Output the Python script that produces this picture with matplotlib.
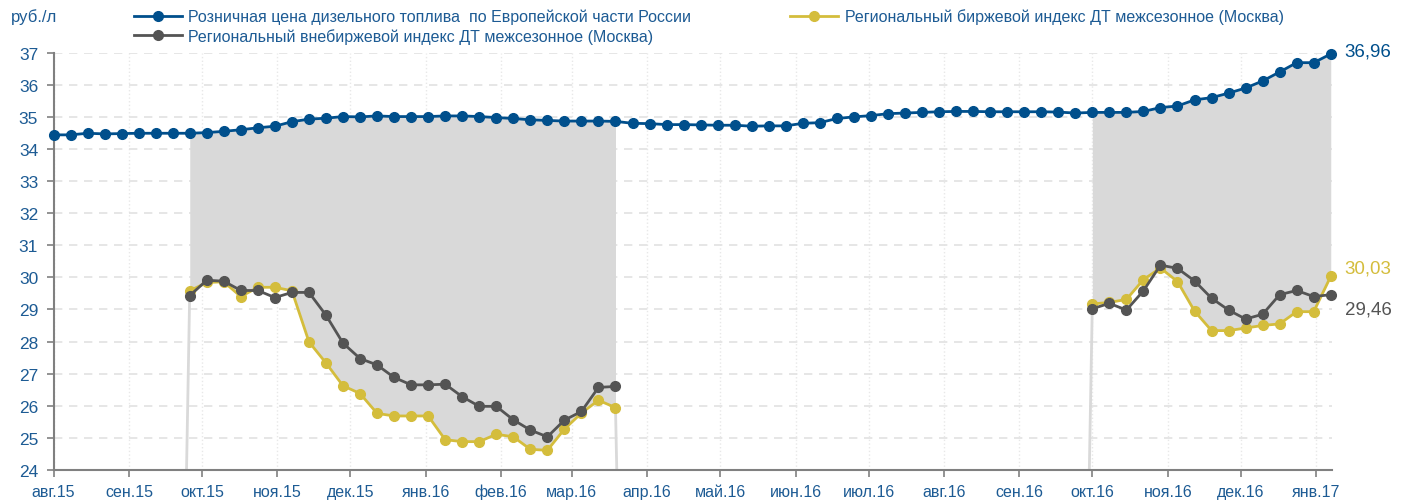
import matplotlib
matplotlib.use('Agg')
import matplotlib.pyplot as plt
import numpy as np
import pandas as pd

plt.rcParams['font.family'] = ['Liberation Sans', 'DejaVu Sans']

# weekly observations, 01.08.2015 - 07.01.2017
dates = pd.date_range('2015-08-01', periods=76, freq='7D')

retail = [34.44, 34.44, 34.49, 34.47, 34.48, 34.49, 34.49, 34.49, 34.49, 34.51,
          34.55, 34.60, 34.66, 34.71, 34.85, 34.93, 34.96, 35.01, 35.00, 35.03,
          35.01, 35.01, 35.01, 35.03, 35.03, 35.01, 34.98, 34.95, 34.91, 34.89,
          34.87, 34.87, 34.87, 34.86, 34.80, 34.79, 34.76, 34.76, 34.75, 34.74,
          34.74, 34.71, 34.72, 34.72, 34.80, 34.82, 34.95, 35.00, 35.04, 35.10,
          35.12, 35.14, 35.16, 35.17, 35.17, 35.16, 35.16, 35.16, 35.16, 35.15,
          35.12, 35.14, 35.14, 35.14, 35.17, 35.29, 35.34, 35.53, 35.60, 35.74,
          35.90, 36.12, 36.40, 36.69, 36.69, 36.96]

# index values exist only in two periods: weeks 8-33 and 61-75
seg1 = (8, 34)
seg2 = (61, 76)

exch1 = [29.58, 29.84, 29.86, 29.40, 29.69, 29.69, 29.58, 27.99, 27.33, 26.62,
         26.38, 25.76, 25.68, 25.68, 25.68, 24.94, 24.88, 24.88, 25.11, 25.03,
         24.64, 24.61, 25.27, 25.77, 26.17, 25.94]
otc1 = [29.43, 29.91, 29.88, 29.59, 29.59, 29.37, 29.53, 29.53, 28.82, 27.95,
        27.47, 27.27, 26.88, 26.65, 26.65, 26.67, 26.28, 25.98, 25.98, 25.56,
        25.24, 25.03, 25.55, 25.82, 26.57, 26.60]
exch2 = [29.17, 29.22, 29.31, 29.93, 30.29, 29.87, 28.95, 28.34, 28.34, 28.42,
         28.50, 28.55, 28.93, 28.93, 30.03]
otc2 = [29.02, 29.19, 28.98, 29.58, 30.38, 30.28, 29.89, 29.35, 28.98, 28.70,
        28.85, 29.46, 29.59, 29.40, 29.46]

month_names = ['янв', 'фев', 'мар', 'апр', 'май', 'июн',
               'июл', 'авг', 'сен', 'окт', 'ноя', 'дек']

c_blue = '#004f8c'
c_yel = '#d4bd3c'
c_dark = '#545454'
c_fill = '#d9d9d9'
c_text = '#1d5b94'

retail = np.array(retail)
exch = np.full(len(dates), np.nan)
otc = np.full(len(dates), np.nan)
exch[seg1[0]:seg1[1]] = exch1
otc[seg1[0]:seg1[1]] = otc1
exch[seg2[0]:seg2[1]] = exch2
otc[seg2[0]:seg2[1]] = otc2

fig = plt.figure(figsize=(14.08, 5.02), dpi=100)
ax = fig.add_axes([0.038, 0.062, 0.908, 0.831])

# spread area between retail price and exchange index
for a, b in (seg1, seg2):
    ax.fill_between(dates[a:b], exch[a:b], retail[a:b], color=c_fill, lw=0, zorder=1)
    ax.plot([dates[a - 1], dates[a]], [0, exch[a]], color=c_fill, lw=2, zorder=1)
    if b < len(dates):
        ax.plot([dates[b - 1], dates[b]], [exch[b - 1], 0], color=c_fill, lw=2, zorder=1)

l_ret, = ax.plot(dates, retail, '-o', color=c_blue, lw=2, ms=7, zorder=4, clip_on=False,
                 label='Розничная цена дизельного топлива  по Европейской части России')
l_otc, = ax.plot(dates, otc, '-o', color=c_dark, lw=2, ms=7, zorder=3, clip_on=False,
                 label='Региональный внебиржевой индекс ДТ межсезонное (Москва)')
l_exch, = ax.plot(dates, exch, '-o', color=c_yel, lw=2, ms=7, zorder=2, clip_on=False,
                  label='Региональный биржевой индекс ДТ межсезонное (Москва)')

# last values
ax.annotate('36,96', (dates[-1], retail[-1]), xytext=(10, 2), textcoords='offset points',
            color=c_blue, fontsize=13.5, va='center', annotation_clip=False)
ax.annotate('30,03', (dates[-1], exch[-1]), xytext=(10, 6), textcoords='offset points',
            color=c_yel, fontsize=13.5, va='center', annotation_clip=False)
ax.annotate('29,46', (dates[-1], otc[-1]), xytext=(10, -10), textcoords='offset points',
            color=c_dark, fontsize=13.5, va='center', annotation_clip=False)

ax.set_ylim(24, 37)
ax.set_yticks(range(24, 38))
ax.set_xlim(dates[0], dates[-1] + pd.Timedelta(days=0.5))
months = pd.date_range('2015-08-01', '2017-01-01', freq='MS')
ax.set_xticks(months)
ax.set_xticklabels(['%s.%s' % (month_names[m.month - 1], str(m.year)[2:]) for m in months])

ax.tick_params(axis='both', colors='#808080', labelcolor=c_text, length=5, width=1.2)
ax.tick_params(axis='y', labelsize=12.5, pad=6)
ax.tick_params(axis='x', labelsize=11.5, pad=5)
for s in ('top', 'right'):
    ax.spines[s].set_visible(False)
for s in ('left', 'bottom'):
    ax.spines[s].set_color('#808080')
    ax.spines[s].set_linewidth(1.5)

ax.grid(axis='y', color='#e2e2e2', ls=(0, (5, 4)), lw=1.2, zorder=0)
ax.grid(axis='x', color='#e8e8e8', ls=':', lw=1, zorder=0)
ax.set_axisbelow(True)

fig.text(0.008, 0.965, 'руб./л', color=c_text, fontsize=12, va='center')

leg = fig.legend(handles=[l_ret, l_otc, l_exch], ncol=2, loc='upper left',
                 bbox_to_anchor=(0.085, 1.01), frameon=False, fontsize=11.5,
                 handlelength=3.0, columnspacing=6.2, labelspacing=0.25, handletextpad=0.4)
for t in leg.get_texts():
    t.set_color(c_text)

fig.savefig('out.png', dpi=100)
